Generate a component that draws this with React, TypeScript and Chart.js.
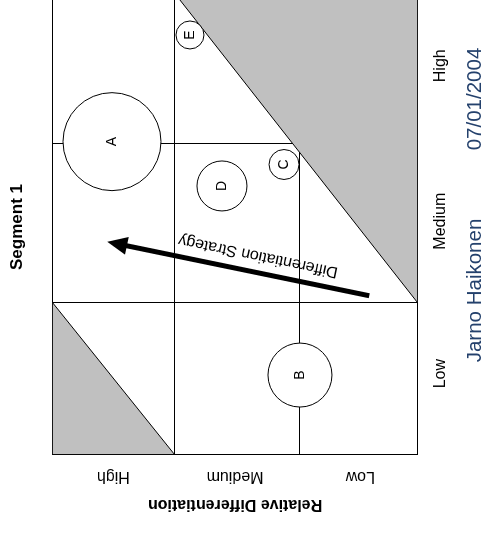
import React, { useEffect, useRef } from 'react';
import { Chart, registerables } from 'chart.js';

Chart.register(...registerables);

// ---------- data ----------
const chartTitle = 'Segment 1';
const yAxisTitle = 'Relative Differentiation';
const xCategories = ['Low', 'Medium', 'High'];
const yCategories = ['Low', 'Medium', 'High'];
const xLabelValues = [0.52, 1.5, 2.5];
const yLabelValues = [0.47, 1.5, 2.5];
const xGridValues = [0, 0.977, 2, 3];
const yGridValues = [0, 0.967, 2, 3];

const bubbleNames = ['A', 'B', 'C', 'D', 'E'];
const bubbleX = [2.012, 0.511, 1.865, 1.727, 2.698];
const bubbleY = [2.511, 0.966, 1.097, 1.607, 1.87];
const bubbleR = [49, 32, 15, 25, 14];

const shadeLowX = [0.977, 3, 3, 0.977];
const shadeLowY = [0, 2.03, 0, 0];
const shadeHighX = [0, 0.977, 0, 0];
const shadeHighY = [1.997, 3, 3, 1.997];

const arrowX = [1.021, 1.368];
const arrowY = [0.396, 2.55];
const arrowLabel = 'Differentiation Strategy';

const footerAuthor = 'Jarno Haikonen';
const footerDate = '07/01/2004';

// ---------- helpers ----------
const FONT = '"Liberation Sans", Arial, Helvetica, sans-serif';

const tickSet = (labels: number[], grid: number[]) =>
  [...grid, ...labels].sort((a, b) => a - b).map((v) => ({ value: v }));

const gridColor = (labels: number[]) => (c: any) =>
  c.tick && labels.indexOf(c.tick.value) >= 0 ? 'rgba(0,0,0,0)' : '#000000';

const toPoints = (xs: number[], ys: number[]) => xs.map((x, i) => ({ x, y: ys[i] }));

const bubbleLabelPlugin = {
  id: 'bubbleLabels',
  afterDatasetsDraw(chart: any) {
    const idx = chart.data.datasets.findIndex((d: any) => d.type === 'bubble');
    const meta = chart.getDatasetMeta(idx);
    const ctx = chart.ctx;
    ctx.save();
    ctx.font = `14px ${FONT}`;
    ctx.fillStyle = '#000';
    ctx.textAlign = 'center';
    ctx.textBaseline = 'middle';
    meta.data.forEach((el: any, i: number) => {
      ctx.fillText(bubbleNames[i], el.x, el.y);
    });
    ctx.restore();
  },
};

const arrowPlugin = {
  id: 'strategyArrow',
  afterDatasetsDraw(chart: any) {
    const xs = chart.scales.x;
    const ys = chart.scales.y;
    const x0 = xs.getPixelForValue(arrowX[0]);
    const y0 = ys.getPixelForValue(arrowY[0]);
    const x1 = xs.getPixelForValue(arrowX[1]);
    const y1 = ys.getPixelForValue(arrowY[1]);
    const dx = x1 - x0;
    const dy = y1 - y0;
    const len = Math.hypot(dx, dy);
    const ux = dx / len;
    const uy = dy / len;
    const headLen = 20;
    const headW = 18;
    const bx = x1 - ux * headLen;
    const by = y1 - uy * headLen;
    const ctx = chart.ctx;
    ctx.save();
    ctx.strokeStyle = '#000';
    ctx.fillStyle = '#000';
    ctx.lineWidth = 5;
    ctx.lineCap = 'butt';
    ctx.beginPath();
    ctx.moveTo(x0, y0);
    ctx.lineTo(bx + ux * 2, by + uy * 2);
    ctx.stroke();
    ctx.beginPath();
    ctx.moveTo(x1, y1);
    ctx.lineTo(bx - uy * headW / 2, by + ux * headW / 2);
    ctx.lineTo(bx + uy * headW / 2, by - ux * headW / 2);
    ctx.closePath();
    ctx.fill();
    // label along the arrow
    const along = len * 0.437;
    const off = 16.5;
    const px = x0 + ux * along - uy * off;
    const py = y0 + uy * along + ux * off;
    ctx.translate(px, py);
    ctx.rotate(Math.atan2(dy, dx));
    ctx.font = `16px ${FONT}`;
    ctx.textAlign = 'center';
    ctx.textBaseline = 'middle';
    ctx.fillText(arrowLabel, 0, 0);
    ctx.restore();
  },
};

const footerPlugin = {
  id: 'footerText',
  afterDraw(chart: any) {
    const ctx = chart.ctx;
    ctx.save();
    ctx.font = `20.5px ${FONT}`;
    ctx.fillStyle = '#24416c';
    ctx.textAlign = 'center';
    ctx.textBaseline = 'alphabetic';
    ctx.fillText(footerAuthor, 243.5, 481);
    ctx.fillText(footerDate, 435, 481);
    ctx.restore();
  },
};

export default function App() {
  const canvasRef = useRef<HTMLCanvasElement | null>(null);

  useEffect(() => {
    const canvas = canvasRef.current;
    if (!canvas) return;
    const chart = new Chart(canvas, {
      type: 'bubble',
      data: {
        datasets: [
          {
            type: 'bubble',
            data: bubbleNames.map((_, i) => ({ x: bubbleX[i], y: bubbleY[i], r: bubbleR[i] })),
            backgroundColor: '#ffffff',
            borderColor: '#000000',
            borderWidth: 1,
            xAxisID: 'x',
            yAxisID: 'y',
            order: 1,
          } as any,
          {
            type: 'line',
            data: toPoints(shadeLowX, shadeLowY),
            backgroundColor: '#c0c0c0',
            borderColor: '#000000',
            borderWidth: 1,
            pointRadius: 0,
            tension: 0,
            fill: 'shape',
            xAxisID: 'x',
            yAxisID: 'y',
            order: 2,
          } as any,
          {
            type: 'line',
            data: toPoints(shadeHighX, shadeHighY),
            backgroundColor: '#c0c0c0',
            borderColor: '#000000',
            borderWidth: 1,
            pointRadius: 0,
            tension: 0,
            fill: 'shape',
            xAxisID: 'x',
            yAxisID: 'y',
            order: 2,
          } as any,
        ],
      },
      options: {
        responsive: false,
        animation: false,
        devicePixelRatio: 1,
        events: [],
        layout: { padding: 0, autoPadding: false } as any,
        plugins: {
          legend: { display: false },
          tooltip: { enabled: false },
          title: {
            display: true,
            text: chartTitle,
            color: '#000',
            font: { family: FONT, size: 17, weight: 'bold' },
            padding: { top: 7.4, bottom: 24.7 },
          },
        },
        scales: {
          x: {
            type: 'linear',
            position: 'bottom',
            min: 0,
            max: 3,
            afterBuildTicks: (s: any) => {
              s.ticks = tickSet(xLabelValues, xGridValues);
            },
            afterFit: (s: any) => {
              s.height = 64.5;
            },
            ticks: {
              autoSkip: false,
              minRotation: 0,
              maxRotation: 0,
              padding: 13,
              color: '#000',
              font: { family: FONT, size: 16 },
              callback: (v: any) => {
                const i = xLabelValues.indexOf(v);
                return i >= 0 ? xCategories[i] : '';
              },
            },
            grid: { drawTicks: false, color: gridColor(xLabelValues), lineWidth: 1 },
            border: { display: true, color: '#000', width: 1 },
          },
          y: {
            type: 'linear',
            position: 'left',
            min: 0,
            max: 3,
            afterBuildTicks: (s: any) => {
              s.ticks = tickSet(yLabelValues, yGridValues);
            },
            afterFit: (s: any) => {
              s.width = 79.5;
            },
            ticks: {
              autoSkip: false,
              minRotation: 90,
              maxRotation: 90,
              crossAlign: 'center',
              padding: -6.45,
              color: '#000',
              font: { family: FONT, size: 16 },
              callback: (v: any) => {
                const i = yLabelValues.indexOf(v);
                return i >= 0 ? yCategories[i] : '';
              },
            },
            grid: { drawTicks: false, color: gridColor(yLabelValues), lineWidth: 1 },
            border: { display: true, color: '#000', width: 1 },
            title: {
              display: true,
              text: yAxisTitle,
              color: '#000',
              font: { family: FONT, size: 16, weight: 'bold' },
              padding: { top: 20.4, bottom: 0 },
            },
          },
          yPad: {
            type: 'linear',
            position: 'right',
            display: true,
            grid: { display: false, drawTicks: false },
            ticks: { display: false },
            border: { display: false },
            afterFit: (s: any) => {
              s.width = 68;
            },
          },
        } as any,
      },
      plugins: [bubbleLabelPlugin, arrowPlugin, footerPlugin],
    } as any);
    return () => chart.destroy();
  }, []);

  return (
    <div
      style={{
        position: 'fixed',
        left: 0,
        top: 0,
        width: 482,
        height: 534,
        overflow: 'hidden',
        background: '#ffffff',
      }}
    >
      <div
        style={{
          position: 'absolute',
          left: 0,
          top: 0,
          width: 614,
          height: 482,
          transformOrigin: '0 0',
          transform: 'translate(0px, 534px) rotate(-90deg)',
        }}
      >
        <canvas
          ref={canvasRef}
          width={614}
          height={482}
          style={{ display: 'block', width: 614, height: 482 }}
        />
      </div>
    </div>
  );
}
